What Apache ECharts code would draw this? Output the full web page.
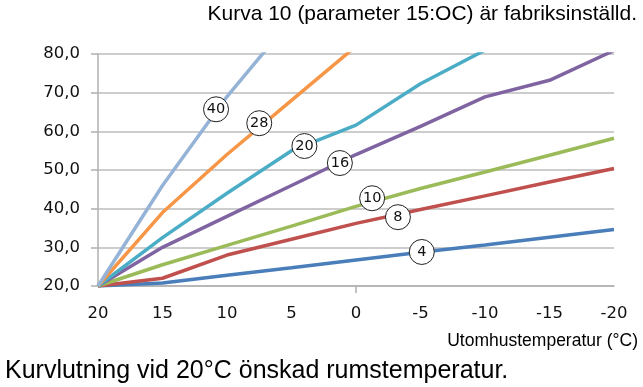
<!DOCTYPE html>
<html>
<head>
<meta charset="utf-8">
<script src="https://cdn.jsdelivr.net/npm/echarts@6/dist/echarts.min.js"></script>
<style>
  html, body { margin: 0; padding: 0; background: #fff; }
  #chart { width: 643px; height: 387px; }
</style>
</head>
<body>
<div id="chart"></div>
<script>
// Outdoor temperature (°C), read left to right: 20 down to -20
const outdoorTemps = [20, 15, 10, 5, 0, -5, -10, -15, -20];

// Curve numbers and their flow temperatures at each outdoor temperature
const curveNames = ['40', '28', '20', '16', '10', '8', '4'];
const curve40 = [20, 46, 69, 89];
const curve28 = [20, 39, 54, 68, 82];
const curve20 = [20, 32.5, 44, 55, 61.6, 72.3, 81];
const curve16 = [20, 30, 38, 46, 54, 61.3, 68.9, 73.2, 80.9];
const curve10 = [20, 25.5, 30.5, 35.5, 40.6, 45.2, 49.5, 53.8, 58.2];
const curve8  = [20, 22, 28, 32.1, 36.2, 39.8, 43.3, 46.9, 50.4];
const curve4  = [20, 20.8, 22.8, 24.7, 26.7, 28.7, 30.6, 32.6, 34.6];

// Where each curve's number badge sits: [outdoor °C, flow °C]
const badgeAt = [
  [10.85, 65.7], [7.5, 62.1], [4.0, 56.2], [1.25, 51.8],
  [-1.25, 42.7], [-3.25, 37.8], [-5.1, 28.8]
];

const yTicks = [20, 30, 40, 50, 60, 70, 80];

const curveValues = [curve40, curve28, curve20, curve16, curve10, curve8, curve4];
const colors = ['#95b3d7', '#f79646', '#4bacc6', '#8064a2', '#9bbb59', '#c0504d', '#4a7ebb'];

const series = curveNames.map((name, i) => ({
  name: 'Kurva ' + name,
  type: 'line',
  data: curveValues[i].map((v, k) => [outdoorTemps[k], v]),
  symbol: 'none',
  clip: true,
  z: 10 - i,
  lineStyle: { color: colors[i], width: 3.5 },
  itemStyle: { color: colors[i] },
  markPoint: {
    symbol: 'circle',
    symbolSize: 25,
    silent: true,
    z: 50,
    itemStyle: { color: '#fff', borderColor: '#222', borderWidth: 1 },
    label: {
      show: true,
      formatter: name,
      color: '#111',
      fontFamily: 'DejaVu Sans',
      fontSize: 14.5
    },
    data: [{ coord: badgeAt[i] }]
  }
}));

const chart = echarts.init(document.getElementById('chart'), null, { renderer: 'canvas' });
chart.setOption({
  animation: false,
  backgroundColor: '#fff',
  grid: { left: 98, right: 29, top: 54, bottom: 101, containLabel: false },
  xAxis: {
    type: 'value',
    inverse: true,
    min: -20,
    max: 20,
    interval: 5,
    axisLine: { show: true, onZero: false, lineStyle: { color: '#b0b0b0', width: 1.5 } },
    axisTick: { show: true, customValues: [0], length: 7, lineStyle: { color: '#b0b0b0', width: 1.5 } },
    splitLine: { show: false },
    axisLabel: {
      color: '#111',
      fontFamily: 'DejaVu Sans',
      fontSize: 16.5,
      margin: 19
    }
  },
  yAxis: {
    type: 'value',
    min: yTicks[0],
    max: yTicks[yTicks.length - 1],
    interval: 10,
    axisLine: { show: true, onZero: false, lineStyle: { color: '#b0b0b0', width: 1.5 } },
    axisTick: { show: true, length: 7, lineStyle: { color: '#b0b0b0', width: 1.5 } },
    splitLine: { show: true, lineStyle: { color: '#bdbdbd', width: 1.5 } },
    axisLabel: {
      color: '#111',
      fontFamily: 'DejaVu Sans',
      fontSize: 16.5,
      margin: 18,
      formatter: v => v.toFixed(1).replace('.', ',')
    }
  },
  graphic: [
    {
      type: 'text', right: 6, top: 4,
      style: { text: 'Kurva 10 (parameter 15:OC) är fabriksinställd.', fill: '#000',
               font: '21px "Liberation Sans", Arial, sans-serif' }
    },
    {
      type: 'text', right: 5, top: 332,
      style: { text: 'Utomhustemperatur (°C)', fill: '#000',
               font: '17.5px "Liberation Sans", Arial, sans-serif' }
    },
    {
      type: 'text', left: 5, top: 359,
      style: { text: 'Kurvlutning vid 20°C önskad rumstemperatur.', fill: '#000',
               font: '25px "Liberation Sans", Arial, sans-serif' }
    }
  ],
  series: series
});
</script>
</body>
</html>
